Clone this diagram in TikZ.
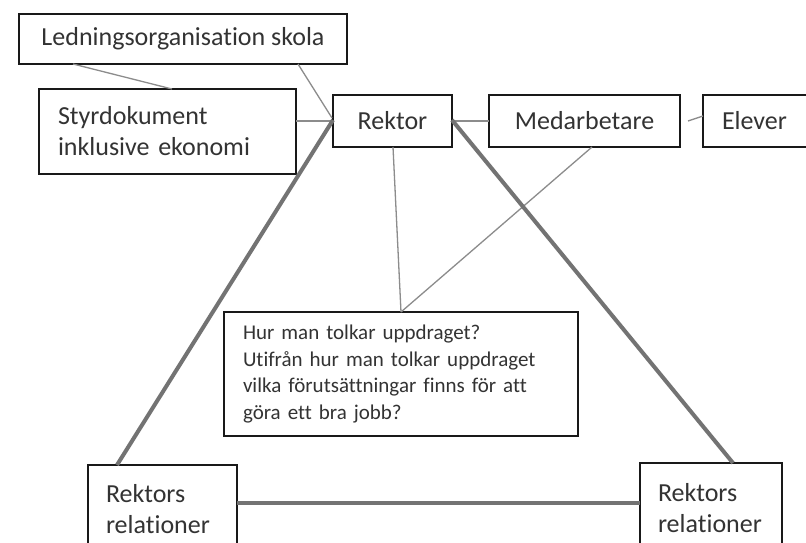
\documentclass[tikz,border=0pt]{standalone}
\usepackage{fontspec}
\setmainfont{Carlito}[Ligatures={NoCommon}]
\usetikzlibrary{calc}
\begin{document}
\begin{tikzpicture}[x=1pt,y=-1pt,
  box/.style={draw=black!90, line width=1.4pt, rectangle, anchor=north west, outer sep=0pt,
              inner sep=0pt, text=black!80, font=\fontsize{26}{31}\selectfont},
  lbox/.style={box, align=left, inner xsep=19pt},
  thinline/.style={draw=black!45, line width=1.3pt},
  thickline/.style={draw=black!55, line width=4pt}]
\useasboundingbox (0,0) rectangle (806,543);
\fill[white] (0,0) rectangle (806,543);

% boxes
\node[box, minimum width=328pt, minimum height=50pt] (L) at (19,14) {Ledningsorganisation skola};
\node[lbox, minimum width=257pt, minimum height=85pt, text width=219pt] (S) at (39,89)
  {Styrdokument\\inklusive ekonomi};
\node[box, minimum width=119pt, minimum height=52pt] (R) at (333,95) {Rektor};
\node[box, minimum width=191pt, minimum height=52pt] (M) at (489,95) {Medarbetare};
\node[lbox, minimum width=110pt, minimum height=52pt, text width=72pt] (E) at (703,95) {Elever};
\node[lbox, minimum width=354pt, minimum height=124pt, text width=316pt,
      font=\fontsize{21}{26.5}\selectfont] (Q) at (224,312)
  {Hur man tolkar uppdraget?\\Utifrån hur man tolkar uppdraget\\vilka förutsättningar finns för att\\göra ett bra jobb?};
\node[lbox, inner xsep=18pt, minimum width=149pt, minimum height=88pt, text width=113pt] (BL) at (88,465)
  {Rektors\\relationer};
\node[lbox, inner xsep=18pt, minimum width=142pt, minimum height=90pt, text width=106pt] (BR) at (640,463)
  {Rektors\\relationer};

% thin connectors
\draw[thinline] ($(L.south west)+(54,0)$) -- ($(S.north west)+(133,0)$);
\draw[thinline] ($(L.south west)+(279,0)$) -- ($(R.north west)+(-1,23)$);
\draw[thinline] ($(S.north east)+(0,32)$) -- ($(R.north west)+(0,26)$);
\draw[thinline] (R.east) -- (M.west);
\draw[thinline] ($(M.east)+(8,0)$) -- ($(E.west)+(0,-5)$);
\draw[thinline] ($(R.south west)+(60,0)$) -- ($(Q.north west)+(177,0)$);
\draw[thinline] ($(M.south west)+(103,0)$) -- ($(Q.north west)+(177,0)$);

% thick connectors
\draw[thickline] ($(R.north west)+(0,25)$) -- ($(BL.north west)+(29,0)$);
\draw[thickline] ($(R.north east)+(0,25)$) -- ($(BR.north west)+(93,0)$);
\draw[thickline] ($(BL.north east)+(0,38)$) -- ($(BR.north west)+(0,40)$);
\end{tikzpicture}
\end{document}
